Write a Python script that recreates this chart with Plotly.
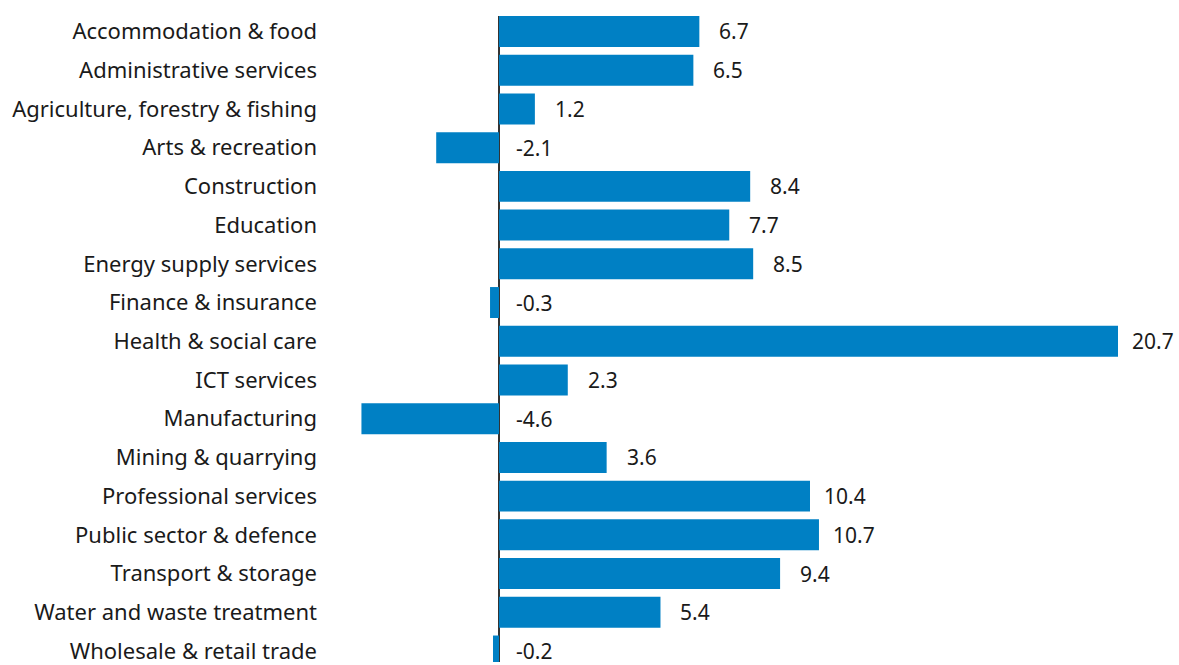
import plotly.graph_objects as go

# Change by industry, one horizontal bar per sector
sectors = [
    "Accommodation & food",
    "Administrative services",
    "Agriculture, forestry & fishing",
    "Arts & recreation",
    "Construction",
    "Education",
    "Energy supply services",
    "Finance & insurance",
    "Health & social care",
    "ICT services",
    "Manufacturing",
    "Mining & quarrying",
    "Professional services",
    "Public sector & defence",
    "Transport & storage",
    "Water and waste treatment",
    "Wholesale & retail trade",
]
values = [6.7, 6.5, 1.2, -2.1, 8.4, 7.7, 8.5, -0.3, 20.7, 2.3, -4.6, 3.6,
          10.4, 10.7, 9.4, 5.4, -0.2]

BAR_COLOR = "#0080C4"
TEXT_COLOR = "#1a1a1a"
FONT = "Noto Sans"

W, H = 1179, 665
zero_px = 499
left_px = 324
px_per_unit = (1118 - zero_px) / 20.7
x_min = (left_px - zero_px) / px_per_unit
x_max = (W - zero_px) / px_per_unit

top_px = 16
row_px = 38.9
y_end = -0.4 + (H - top_px) / row_px

fig = go.Figure(
    go.Bar(
        x=values,
        y=list(range(len(sectors))),
        orientation="h",
        marker=dict(color=BAR_COLOR, line=dict(width=0)),
        width=0.8,
        hoverinfo="skip",
    )
)

# value labels centred a fixed distance past the bar end (or zero for negatives)
for i, v in enumerate(values):
    fig.add_annotation(
        x=max(v, 0), y=i, text=f"{v:.1f}", showarrow=False,
        xanchor="center", yanchor="middle",
        xshift=35,
        font=dict(family=FONT, size=21, color=TEXT_COLOR),
    )

fig.update_layout(
    width=W, height=H,
    margin=dict(l=left_px, r=0, t=top_px, b=0),
    paper_bgcolor="white", plot_bgcolor="white",
    showlegend=False,
    font=dict(family=FONT, size=22, color=TEXT_COLOR),
    xaxis=dict(
        range=[x_min, x_max], showgrid=False, showticklabels=False,
        zeroline=True, zerolinecolor="#333333", zerolinewidth=1.5,
        fixedrange=True,
    ),
    yaxis=dict(
        range=[y_end, -0.4], tickmode="array",
        tickvals=list(range(len(sectors))), ticktext=sectors,
        showgrid=False, zeroline=False, ticks="", ticklabelstandoff=6,
        ticklabeloverflow="allow",
        fixedrange=True,
    ),
)

fig.write_html("out.html")
